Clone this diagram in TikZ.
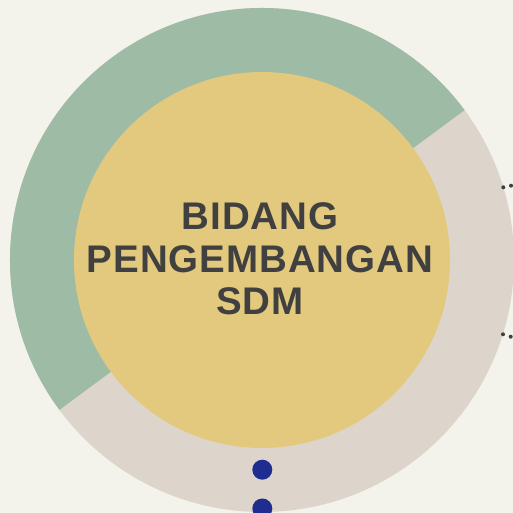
\documentclass[tikz,border=0pt]{standalone}
\usepackage{fontspec}
\setmainfont{Liberation Sans}
\definecolor{bgc}{HTML}{F3F3EC}
\definecolor{greenc}{HTML}{9DBBA5}
\definecolor{beigec}{HTML}{DDD5CC}
\definecolor{yellowc}{HTML}{E3C97D}
\definecolor{textc}{HTML}{404040}
\definecolor{bluec}{HTML}{1F2D91}
\tikzset{
  title/.style={anchor=base, text=textc, inner sep=0pt,
    font=\fontsize{38.5}{42}\selectfont\bfseries\addfontfeature{LetterSpace=2.5}},
  smalldot/.style={fill=textc},
  bluedot/.style={fill=bluec}
}
\begin{document}
\begin{tikzpicture}[x=1pt,y=1pt]
\fill[bgc] (0,0) rectangle (513,513);
\useasboundingbox (0,0) rectangle (513,513);
\coordinate (c) at (262,253);
\fill[beigec] (c) circle (252);
\fill[greenc] (c) -- ++(36.5:252) arc (36.5:216.5:252) -- cycle;
\fill[yellowc] (c) circle (188);
\node[title] (t1) at (260,283) {BIDANG};
\node[title] (t2) at (260,240.7) {PENGEMBANGAN};
\node[title] (t3) at (260,198) {SDM};
\fill[smalldot] (503.3,325.7) circle (2);
\fill[smalldot] (511,327.3) circle (2);
\fill[smalldot] (503,178.7) circle (2);
\fill[smalldot] (510.7,176.3) circle (2);
\fill[bluedot] (262.3,43.3) circle (10);
\fill[bluedot] (262.3,4.5) circle (10);
\end{tikzpicture}
\end{document}
